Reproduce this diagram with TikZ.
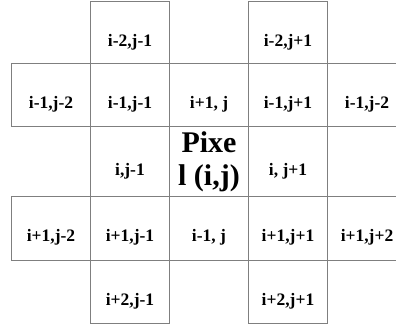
\documentclass[tikz,border=0pt]{standalone}
\usepackage{fontspec}
\setmainfont{Liberation Serif}
\definecolor{gridGray}{HTML}{7F7F7F}
\tikzset{
  cell/.style={draw=gridGray, line width=1pt, minimum width=79pt, minimum height=63pt,
    inner sep=0pt, font=\bfseries\fontsize{17.5}{20}\selectfont},
  lbl/.style={cell, text height=28pt, text depth=1pt}
}

\begin{document}
\begin{tikzpicture}[x=1pt, y=-1pt]
  \clip (0,0) rectangle (396,326);
  % top row, only two boxes
  \node[lbl, minimum height=62pt] (t2) at (130,33) {i-2,j-1};
  \node[lbl, minimum height=62pt] (t4) at (288,33) {i-2,j+1};
  % second row
  \foreach \txt [count=\c] in {{i-1,j-2},{i-1,j-1},{i+1, j},{i-1,j+1},{i-1,j-2}} {
    \node[lbl] (a\c) at ({-28+79*\c},95.5) {\txt};
  }
  % middle row
  \node[lbl, minimum height=69pt] (m2) at (130,161.5) {i,j-1};
  \node[cell, minimum height=69pt, align=center,
        font=\bfseries\fontsize{30}{33}\selectfont] (px) at (209,161.5) {Pixe\\l (i,j)};
  \node[lbl, minimum height=69pt] (m4) at (288,161.5) {i, j+1};
  % fourth row
  \foreach \txt [count=\c] in {{i+1,j-2},{i+1,j-1},{i-1, j},{i+1,j+1},{i+1,j+2}} {
    \node[lbl, minimum height=64pt] (b\c) at ({-28+79*\c},228) {\txt};
  }
  % bottom row
  \node[lbl] (d2) at (130,291.5) {i+2,j-1};
  \node[lbl] (d4) at (288,291.5) {i+2,j+1};
\end{tikzpicture}
\end{document}
